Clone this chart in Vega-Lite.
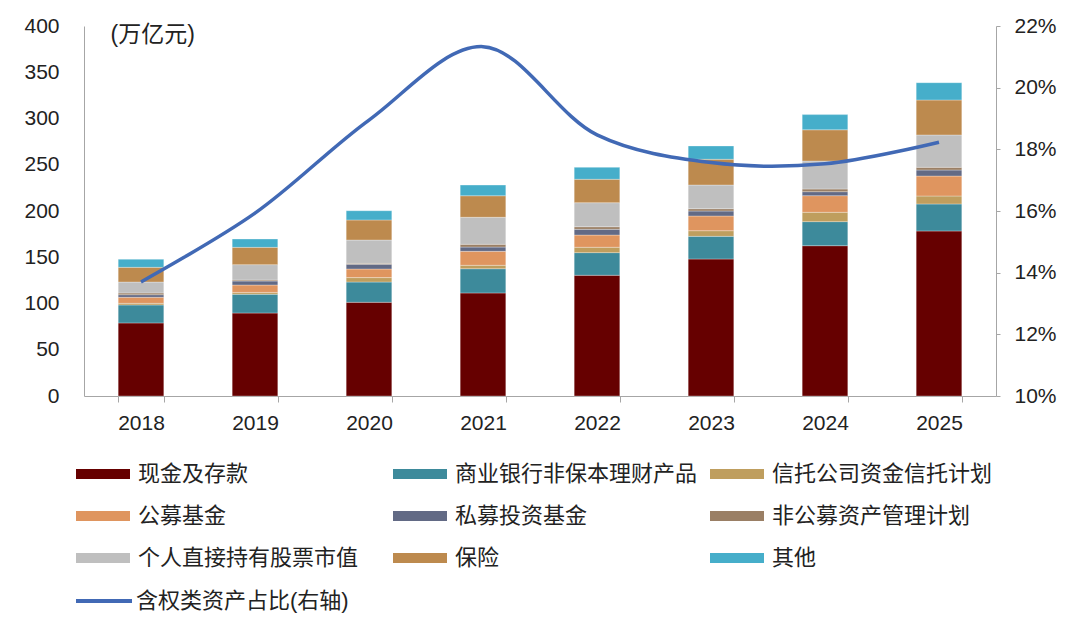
{
  "$schema": "https://vega.github.io/schema/vega-lite/v6.json",
  "autosize": {"type": "none"},
  "padding": {"left": 84, "top": 26, "right": 84, "bottom": 241},
  "width": 912,
  "height": 370,
  "background": "white",
  "datasets": {
    "bars": [
      {"year": "2018", "cat": "现金及存款", "k": 1, "v": 79.0},
      {"year": "2018", "cat": "商业银行非保本理财产品", "k": 2, "v": 19.4},
      {"year": "2018", "cat": "信托公司资金信托计划", "k": 3, "v": 1.8},
      {"year": "2018", "cat": "公募基金", "k": 4, "v": 6.5},
      {"year": "2018", "cat": "私募投资基金", "k": 5, "v": 2.8},
      {"year": "2018", "cat": "非公募资产管理计划", "k": 6, "v": 1.9},
      {"year": "2018", "cat": "个人直接持有股票市值", "k": 7, "v": 11.8},
      {"year": "2018", "cat": "保险", "k": 8, "v": 15.9},
      {"year": "2018", "cat": "其他", "k": 9, "v": 8.7},
      {"year": "2019", "cat": "现金及存款", "k": 1, "v": 89.7},
      {"year": "2019", "cat": "商业银行非保本理财产品", "k": 2, "v": 20.3},
      {"year": "2019", "cat": "信托公司资金信托计划", "k": 3, "v": 2.0},
      {"year": "2019", "cat": "公募基金", "k": 4, "v": 8.0},
      {"year": "2019", "cat": "私募投资基金", "k": 5, "v": 4.3},
      {"year": "2019", "cat": "非公募资产管理计划", "k": 6, "v": 1.1},
      {"year": "2019", "cat": "个人直接持有股票市值", "k": 7, "v": 16.6},
      {"year": "2019", "cat": "保险", "k": 8, "v": 18.7},
      {"year": "2019", "cat": "其他", "k": 9, "v": 9.0},
      {"year": "2020", "cat": "现金及存款", "k": 1, "v": 101.3},
      {"year": "2020", "cat": "商业银行非保本理财产品", "k": 2, "v": 21.9},
      {"year": "2020", "cat": "信托公司资金信托计划", "k": 3, "v": 4.8},
      {"year": "2020", "cat": "公募基金", "k": 4, "v": 9.3},
      {"year": "2020", "cat": "私募投资基金", "k": 5, "v": 5.1},
      {"year": "2020", "cat": "非公募资产管理计划", "k": 6, "v": 1.0},
      {"year": "2020", "cat": "个人直接持有股票市值", "k": 7, "v": 25.2},
      {"year": "2020", "cat": "保险", "k": 8, "v": 21.7},
      {"year": "2020", "cat": "其他", "k": 9, "v": 10.0},
      {"year": "2021", "cat": "现金及存款", "k": 1, "v": 111.4},
      {"year": "2021", "cat": "商业银行非保本理财产品", "k": 2, "v": 26.2},
      {"year": "2021", "cat": "信托公司资金信托计划", "k": 3, "v": 3.7},
      {"year": "2021", "cat": "公募基金", "k": 4, "v": 15.1},
      {"year": "2021", "cat": "私募投资基金", "k": 5, "v": 4.6},
      {"year": "2021", "cat": "非公募资产管理计划", "k": 6, "v": 3.0},
      {"year": "2021", "cat": "个人直接持有股票市值", "k": 7, "v": 29.2},
      {"year": "2021", "cat": "保险", "k": 8, "v": 23.3},
      {"year": "2021", "cat": "其他", "k": 9, "v": 11.5},
      {"year": "2022", "cat": "现金及存款", "k": 1, "v": 130.5},
      {"year": "2022", "cat": "商业银行非保本理财产品", "k": 2, "v": 24.5},
      {"year": "2022", "cat": "信托公司资金信托计划", "k": 3, "v": 5.8},
      {"year": "2022", "cat": "公募基金", "k": 4, "v": 13.2},
      {"year": "2022", "cat": "私募投资基金", "k": 5, "v": 6.2},
      {"year": "2022", "cat": "非公募资产管理计划", "k": 6, "v": 2.8},
      {"year": "2022", "cat": "个人直接持有股票市值", "k": 7, "v": 26.0},
      {"year": "2022", "cat": "保险", "k": 8, "v": 25.3},
      {"year": "2022", "cat": "其他", "k": 9, "v": 12.9},
      {"year": "2023", "cat": "现金及存款", "k": 1, "v": 148.1},
      {"year": "2023", "cat": "商业银行非保本理财产品", "k": 2, "v": 24.5},
      {"year": "2023", "cat": "信托公司资金信托计划", "k": 3, "v": 6.1},
      {"year": "2023", "cat": "公募基金", "k": 4, "v": 15.9},
      {"year": "2023", "cat": "私募投资基金", "k": 5, "v": 5.4},
      {"year": "2023", "cat": "非公募资产管理计划", "k": 6, "v": 2.5},
      {"year": "2023", "cat": "个人直接持有股票市值", "k": 7, "v": 25.6},
      {"year": "2023", "cat": "保险", "k": 8, "v": 27.8},
      {"year": "2023", "cat": "其他", "k": 9, "v": 14.4},
      {"year": "2024", "cat": "现金及存款", "k": 1, "v": 162.5},
      {"year": "2024", "cat": "商业银行非保本理财产品", "k": 2, "v": 26.0},
      {"year": "2024", "cat": "信托公司资金信托计划", "k": 3, "v": 10.1},
      {"year": "2024", "cat": "公募基金", "k": 4, "v": 18.0},
      {"year": "2024", "cat": "私募投资基金", "k": 5, "v": 4.3},
      {"year": "2024", "cat": "非公募资产管理计划", "k": 6, "v": 2.9},
      {"year": "2024", "cat": "个人直接持有股票市值", "k": 7, "v": 30.2},
      {"year": "2024", "cat": "保险", "k": 8, "v": 33.8},
      {"year": "2024", "cat": "其他", "k": 9, "v": 16.4},
      {"year": "2025", "cat": "现金及存款", "k": 1, "v": 178.4},
      {"year": "2025", "cat": "商业银行非保本理财产品", "k": 2, "v": 29.2},
      {"year": "2025", "cat": "信托公司资金信托计划", "k": 3, "v": 8.6},
      {"year": "2025", "cat": "公募基金", "k": 4, "v": 21.6},
      {"year": "2025", "cat": "私募投资基金", "k": 5, "v": 6.5},
      {"year": "2025", "cat": "非公募资产管理计划", "k": 6, "v": 2.9},
      {"year": "2025", "cat": "个人直接持有股票市值", "k": 7, "v": 35.0},
      {"year": "2025", "cat": "保险", "k": 8, "v": 37.8},
      {"year": "2025", "cat": "其他", "k": 9, "v": 18.7}
    ],
    "ratio": [
      {"year": "2018", "r": 0.137},
      {"year": "2019", "r": 0.1593},
      {"year": "2020", "r": 0.1895},
      {"year": "2021", "r": 0.2133},
      {"year": "2022", "r": 0.1847},
      {"year": "2023", "r": 0.1757},
      {"year": "2024", "r": 0.1753},
      {"year": "2025", "r": 0.1823}
    ]
  },
  "encoding": {
    "x": {
      "field": "year",
      "type": "ordinal",
      "title": null,
      "scale": {"paddingInner": 0.6, "paddingOuter": 0.3},
      "axis": {
        "labelAngle": 0,
        "tickBand": "extent",
        "tickSize": 6,
        "labelPadding": 10
      }
    }
  },
  "layer": [
    {
      "data": {"name": "bars"},
      "mark": {"type": "bar", "stroke": "#ffffff", "strokeWidth": 0.6, "strokeOpacity": 0.5},
      "encoding": {
        "y": {
          "field": "v",
          "type": "quantitative",
          "aggregate": "sum",
          "stack": "zero",
          "scale": {"domain": [0, 400], "nice": false},
          "axis": {
            "title": "(万亿元)",
            "titleAngle": 0,
            "titleX": 26,
            "titleY": 8,
            "titleAlign": "left",
            "titleBaseline": "middle",
            "titleFontSize": 23,
            "titleFontWeight": "normal",
            "values": [0, 50, 100, 150, 200, 250, 300, 350, 400],
            "tickSize": 0,
            "labelPadding": 25
          }
        },
        "color": {
          "field": "cat",
          "type": "nominal",
          "scale": {
            "domain": [
              "现金及存款",
              "商业银行非保本理财产品",
              "信托公司资金信托计划",
              "公募基金",
              "私募投资基金",
              "非公募资产管理计划",
              "个人直接持有股票市值",
              "保险",
              "其他"
            ],
            "range": [
              "#660000",
              "#3d8a9b",
              "#bf9e5e",
              "#df955f",
              "#626a85",
              "#9a7f65",
              "#bfbfbf",
              "#bd8a4e",
              "#46aeca"
            ]
          },
          "legend": {
            "title": null,
            "orient": "none",
            "direction": "horizontal",
            "legendX": -8,
            "legendY": 421,
            "columns": 3,
            "gridAlign": "all",
            "columnPadding": 12,
            "rowPadding": 4,
            "symbolType": "M-1,-0.185H1V0.185H-1Z",
            "symbolSize": 2916,
            "symbolStrokeWidth": 0,
            "symbolOpacity": 1,
            "labelOffset": 8,
            "labelFontSize": 22,
            "labelLimit": 400
          }
        },
        "order": {"field": "k", "type": "quantitative", "sort": "ascending"}
      }
    },
    {
      "data": {"name": "ratio"},
      "mark": {"type": "line", "interpolate": "catmull-rom", "strokeWidth": 3.5},
      "encoding": {
        "y": {
          "field": "r",
          "type": "quantitative",
          "scale": {"domain": [0.1, 0.22], "nice": false, "zero": false},
          "axis": {
            "orient": "right",
            "title": null,
            "format": ".0%",
            "values": [0.1, 0.12, 0.14, 0.16, 0.18, 0.2, 0.22],
            "tickSize": 4,
            "labelPadding": 14
          }
        },
        "stroke": {
          "datum": "含权类资产占比(右轴)",
          "scale": {"range": ["#4169b5"]},
          "legend": {
            "title": null,
            "orient": "none",
            "legendX": -10,
            "legendY": 545,
            "symbolType": "stroke",
            "symbolSize": 3136,
            "symbolStrokeWidth": 4,
            "labelOffset": 2,
            "labelFontSize": 22,
            "labelLimit": 400
          }
        }
      }
    }
  ],
  "resolve": {"scale": {"y": "independent"}},
  "config": {
    "font": "Liberation Sans, 'Noto Sans CJK SC'",
    "view": {"stroke": null},
    "axis": {
      "grid": false,
      "domainColor": "#a6a6a6",
      "tickColor": "#a6a6a6",
      "labelFontSize": 21,
      "labelColor": "#222222",
      "titleColor": "#222222",
      "labelFont": "Liberation Sans, 'Noto Sans CJK SC'",
      "titleFont": "Liberation Sans, 'Noto Sans CJK SC'"
    },
    "legend": {
      "labelColor": "#222222",
      "labelFont": "Liberation Sans, 'Noto Sans CJK SC'"
    }
  }
}
